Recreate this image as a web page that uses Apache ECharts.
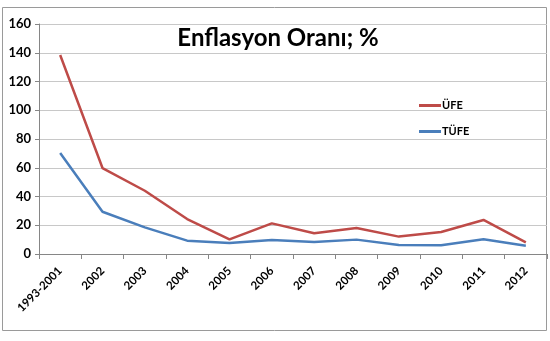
<!DOCTYPE html>
<html><head><meta charset="utf-8">
<script src="https://cdn.jsdelivr.net/npm/echarts@6/dist/echarts.min.js"></script>
<style>html,body{margin:0;padding:0;background:#fff}#c{width:550px;height:341px}</style>
</head><body><div id="c"></div>
<script>
const categories = ['1993-2001','2002','2003','2004','2005','2006','2007','2008','2009','2010','2011','2012'];
const ufe  = [138.4, 59.8, 44.0, 24.3, 10.2, 21.3, 14.4, 18.1, 12.1, 15.3, 23.7, 8.1];
const tufe = [70.3, 29.4, 18.5, 9.3, 7.6, 9.7, 8.4, 10.0, 6.3, 6.1, 10.2, 5.8];
const yTicks = [0, 20, 40, 60, 80, 100, 120, 140, 160];
const titleText = 'Enflasyon Oranı; %';

const chart = echarts.init(document.getElementById('c'));
chart.setOption({
  animation: false,
  backgroundColor: '#fff',
  title: {
    text: titleText, left: 273, top: 21, textAlign: 'center',
    textStyle: { fontFamily: 'Lato', fontWeight: 'bold', fontSize: 24, color: '#000' }
  },
  legend: {
    orient: 'vertical', left: 414, top: 95, itemGap: 15,
    itemWidth: 22, itemHeight: 3, icon: 'rect',
    textStyle: { fontFamily: 'Lato', fontWeight: 'bold', fontSize: 11, color: '#000', padding: [0,0,0,-4] },
    data: ['ÜFE', 'TÜFE']
  },
  grid: { left: 39, right: 3, top: 24, bottom: 87 },
  graphic: [{
    type: 'rect', shape: { x: 2.5, y: 7.5, width: 544, height: 323 },
    style: { fill: 'none', stroke: '#9a9a9a', lineWidth: 1 }, z: -1
  }],
  xAxis: {
    type: 'category', data: categories, boundaryGap: true,
    axisLine: { lineStyle: { color: '#868686' } },
    axisTick: { show: true, alignWithLabel: false, length: 5, lineStyle: { color: '#868686' } },
    axisLabel: { rotate: 45, interval: 0, margin: 15, fontFamily: 'Lato', fontWeight: 'bold', fontSize: 11.5, color: '#000' }
  },
  yAxis: {
    type: 'value', min: yTicks[0], max: yTicks[yTicks.length-1], interval: 20,
    axisLine: { show: true, lineStyle: { color: '#868686' } },
    axisTick: { show: true, length: 4, lineStyle: { color: '#868686' } },
    axisLabel: { fontFamily: 'Lato', fontWeight: 'bold', fontSize: 13, color: '#000', margin: 8 },
    splitLine: { lineStyle: { color: '#c8c8c8' } }
  },
  series: [
    { name: 'ÜFE', type: 'line', data: ufe, symbol: 'none', lineStyle: { color: '#BE4B48', width: 2.5 }, itemStyle: { color: '#BE4B48' } },
    { name: 'TÜFE', type: 'line', data: tufe, symbol: 'none', lineStyle: { color: '#4A7EBB', width: 2.5 }, itemStyle: { color: '#4A7EBB' } }
  ]
});
</script></body></html>
